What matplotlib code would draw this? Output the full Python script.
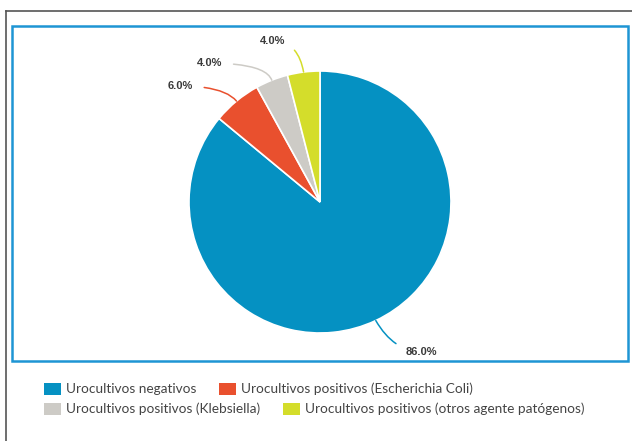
import matplotlib
matplotlib.use("Agg")
import numpy as np
import matplotlib.pyplot as plt
from matplotlib.patches import Rectangle
from matplotlib.lines import Line2D

########################################################
# Data

categories = [
    "Urocultivos negativos",
    "Urocultivos positivos (Escherichia Coli)",
    "Urocultivos positivos (Klebsiella)",
    "Urocultivos positivos (otros agente patógenos)",
]
values = [86.0, 6.0, 4.0, 4.0]
colors = ["#0591C2", "#E9502E", "#CDCBC6", "#D4DD2B"]

########################################################
W, H = 632, 441
fig = plt.figure(figsize=(W / 100, H / 100), dpi=100)
ax = fig.add_axes([0, 0, 1, 1])

# pixel helpers (y measured from the top of the picture)
def py(y):
    return H - y

center = (320, py(202))
radius = 131

wedges, _ = ax.pie(values, colors=colors, startangle=90, counterclock=False,
                   center=center, radius=radius, frame=True,
                   wedgeprops=dict(edgecolor="white", linewidth=1.2))

# label offsets (pixels) and connector angles at the wedge end
offsets = [(46, -31), (-56, 15), (-62, 17), (-31, 31)]
angles_b = [-60, 130, 110, 100]

for w, v, c, off, ab in zip(wedges, values, colors, offsets, angles_b):
    mid = np.deg2rad((w.theta1 + w.theta2) / 2)
    edge = (center[0] + radius * np.cos(mid), center[1] + radius * np.sin(mid))
    ax.annotate(f"{v:.1f}%", xy=edge, xytext=off, textcoords="offset pixels",
                ha="center", va="center", fontsize=8, fontweight="bold",
                family="Liberation Sans", color="#3a3a3a",
                arrowprops=dict(arrowstyle="-", color=c, lw=1.1,
                                shrinkA=6, shrinkB=0,
                                connectionstyle=f"angle3,angleA=0,angleB={ab}"))

# frames
ax.add_patch(Rectangle((12, py(361)), 616, 335, fill=False,
                       edgecolor="#1E95D4", lw=1.8))
ax.add_line(Line2D([6, W], [py(11), py(11)], color="#555555", lw=1.2))
ax.add_line(Line2D([6, 6], [py(11), 0], color="#555555", lw=1.2))

ax.set_xlim(0, W)
ax.set_ylim(0, H)
ax.set_aspect("auto")
ax.axis("off")

# legend, laid out as a flowing list of two rows
fig.canvas.draw()
renderer = fig.canvas.get_renderer()
rows = [[0, 1], [2, 3]]
row_y = [389, 409]
for row, yy in zip(rows, row_y):
    x = 44
    for i in row:
        ax.add_patch(Rectangle((x, py(yy + 6)), 17, 12, color=colors[i], lw=0))
        t = ax.text(x + 22, py(yy), categories[i], fontsize=9.8, family="Lato",
                    color="#444444", va="center", ha="left")
        bb = t.get_window_extent(renderer)
        x = bb.x1 + 23

fig.savefig("out.png", dpi=100, facecolor="white")
